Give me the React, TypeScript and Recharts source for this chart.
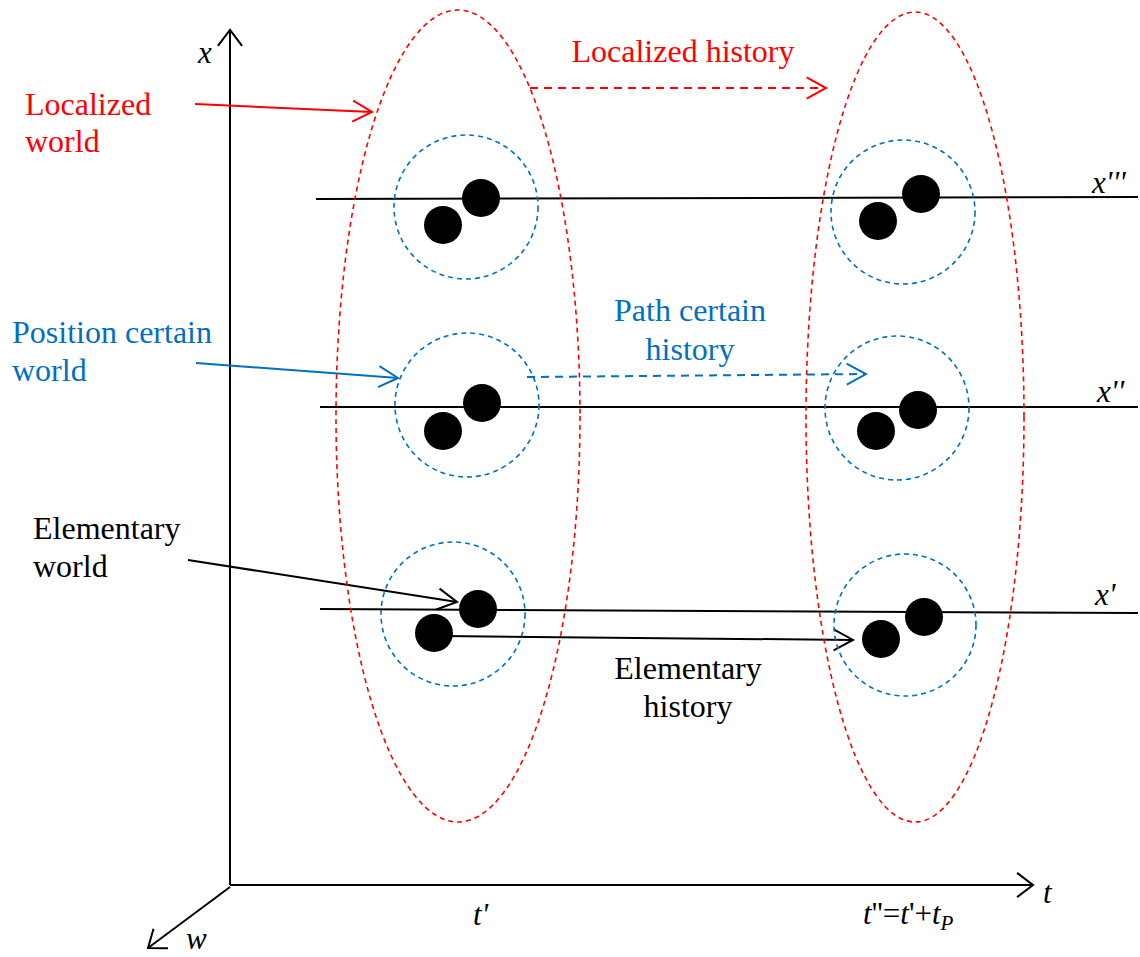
import React from "react";
import { ScatterChart, Scatter, XAxis, YAxis, ReferenceLine } from "recharts";

// canvas units: one unit per pixel, y counted from the top
const W = 1140;
const H = 957;
const FONT = "'Liberation Serif', 'Times New Roman', serif";
const RED = "#FF0000";
const BLUE = "#0070C0";
const BLACK = "#000000";

// two particles in every elementary world
const particles = [
  { x: 481, y: 198 }, { x: 443, y: 225 },
  { x: 482, y: 403 }, { x: 443, y: 431 },
  { x: 478, y: 609 }, { x: 434, y: 633 },
  { x: 921, y: 194 }, { x: 878, y: 221 },
  { x: 918, y: 410 }, { x: 876, y: 431 },
  { x: 924, y: 617 }, { x: 881, y: 639 },
];

// position certain worlds (blue dashed circles)
const positionWorlds = [
  { x: 466, y: 207, r: 72 },
  { x: 467, y: 405, r: 72 },
  { x: 453, y: 614, r: 72 },
  { x: 903, y: 212, r: 72 },
  { x: 897, y: 408, r: 72 },
  { x: 905, y: 625, r: 71 },
];

// localized worlds (red dashed ellipses)
const localizedWorlds = [
  { x: 458, y: 416, rx: 122, ry: 406 },
  { x: 915, y: 417, rx: 109, ry: 405 },
];

// axes x, t, w
const axes = [
  { from: [230, 885], to: [230, 30] },
  { from: [230, 885], to: [1033, 885] },
  { from: [230, 887], to: [148, 948] },
];

// position lines x''', x'', x'
const positionLines = [
  { from: [316, 199], to: [1138, 197] },
  { from: [320, 407], to: [1138, 407] },
  { from: [320, 609], to: [1138, 613] },
];

const arrows = [
  { from: [195, 104], to: [372, 112], color: RED, dashed: false },
  { from: [530, 88], to: [826, 88], color: RED, dashed: true },
  { from: [196, 363], to: [398, 378], color: BLUE, dashed: false },
  { from: [527, 377], to: [866, 374], color: BLUE, dashed: true },
  { from: [188, 560], to: [457, 602], color: BLACK, dashed: false },
  { from: [443, 636], to: [853, 640], color: BLACK, dashed: false },
];

const captions = [
  { x: 25, y: 115, text: "Localized", color: RED, anchor: "start" },
  { x: 25, y: 152, text: "world", color: RED, anchor: "start" },
  { x: 683, y: 62, text: "Localized history", color: RED, anchor: "middle" },
  { x: 12, y: 343, text: "Position certain", color: BLUE, anchor: "start" },
  { x: 12, y: 381, text: "world", color: BLUE, anchor: "start" },
  { x: 690, y: 321, text: "Path certain", color: BLUE, anchor: "middle" },
  { x: 690, y: 360, text: "history", color: BLUE, anchor: "middle" },
  { x: 33, y: 539, text: "Elementary", color: BLACK, anchor: "start" },
  { x: 33, y: 577, text: "world", color: BLACK, anchor: "start" },
  { x: 688, y: 679, text: "Elementary", color: BLACK, anchor: "middle" },
  { x: 688, y: 717, text: "history", color: BLACK, anchor: "middle" },
];

const symbols = [
  { x: 198, y: 63, text: "x" },
  { x: 1043, y: 903, text: "t" },
  { x: 186, y: 949, text: "w" },
  { x: 1092, y: 193, text: "x'''" },
  { x: 1097, y: 402, text: "x''" },
  { x: 1095, y: 605, text: "x'" },
  { x: 473, y: 925, text: "t'" },
];

const openHead = (x1: number, y1: number, x2: number, y2: number, len = 22, spread = 0.5) => {
  const a = Math.atan2(y2 - y1, x2 - x1);
  const l = [x2 - len * Math.cos(a - spread), y2 - len * Math.sin(a - spread)];
  const r = [x2 - len * Math.cos(a + spread), y2 - len * Math.sin(a + spread)];
  return `M${l[0]},${l[1]} L${x2},${y2} L${r[0]},${r[1]}`;
};

const arrowLine = (color: string, dashed: boolean, width: number, len?: number, spread?: number) => (p: any) => (
  <g>
    <line x1={p.x1} y1={p.y1} x2={p.x2} y2={p.y2} stroke={color} strokeWidth={width}
      strokeDasharray={dashed ? "8 6" : undefined} />
    <path d={openHead(p.x1, p.y1, p.x2, p.y2, len, spread)} fill="none" stroke={color} strokeWidth={width} />
  </g>
);

const plainLine = (p: any) => (
  <line x1={p.x1} y1={p.y1} x2={p.x2} y2={p.y2} stroke={BLACK} strokeWidth={2} />
);

// canvas units are pixels here (margin 0, hidden axes)
const PX = 1;

const Particle = (p: any) => <circle cx={p.cx} cy={p.cy} r={19} fill={BLACK} />;

const PositionWorld = (p: any) => (
  <circle cx={p.cx} cy={p.cy} r={p.payload.r * PX} fill="none" stroke={BLUE}
    strokeWidth={1.6} strokeDasharray="5 4" />
);

const LocalizedWorld = (p: any) => (
  <ellipse cx={p.cx} cy={p.cy} rx={p.payload.rx * PX} ry={p.payload.ry * PX} fill="none"
    stroke={RED} strokeWidth={1.6} strokeDasharray="5 4" />
);

const Caption = (p: any) => (
  <text x={p.cx} y={p.cy} fill={p.payload.color} textAnchor={p.payload.anchor}
    style={{ fontFamily: FONT, fontSize: 32 }}>
    {p.payload.text}
  </text>
);

const Symbol = (p: any) => (
  <text x={p.cx} y={p.cy} fill={BLACK} textAnchor="start"
    style={{ fontFamily: FONT, fontSize: 31, fontStyle: "italic" }}>
    {p.payload.text}
  </text>
);

const tSum = [{ x: 863, y: 924 }];
const TSum = (p: any) => (
  <text x={p.cx} y={p.cy} fill={BLACK} textAnchor="start" style={{ fontFamily: FONT, fontSize: 31 }}>
    <tspan fontStyle="italic">t</tspan>
    <tspan>''=</tspan>
    <tspan fontStyle="italic">t</tspan>
    <tspan>'+</tspan>
    <tspan fontStyle="italic">t</tspan>
    <tspan fontStyle="italic" fontSize={21} dy={6}>P</tspan>
  </text>
);

export default function App() {
  return (
    <div style={{ position: "absolute", left: 0, top: 0, background: "#fff" }}>
      <ScatterChart width={W} height={H} margin={{ top: 0, right: 0, bottom: 0, left: 0 }}>
        <XAxis type="number" dataKey="x" domain={[0, W]} hide allowDataOverflow />
        <YAxis type="number" dataKey="y" domain={[0, H]} reversed hide allowDataOverflow />

        {positionLines.map((l, i) => (
          <ReferenceLine key={`pl${i}`} segment={[{ x: l.from[0], y: l.from[1] }, { x: l.to[0], y: l.to[1] }]}
            shape={plainLine} ifOverflow="visible" />
        ))}

        <Scatter data={localizedWorlds} shape={LocalizedWorld} isAnimationActive={false} />
        <Scatter data={positionWorlds} shape={PositionWorld} isAnimationActive={false} />

        {axes.map((a, i) => (
          <ReferenceLine key={`ax${i}`} segment={[{ x: a.from[0], y: a.from[1] }, { x: a.to[0], y: a.to[1] }]}
            shape={arrowLine(BLACK, false, 2, 20, 0.65)} ifOverflow="visible" />
        ))}

        {arrows.map((a, i) => (
          <ReferenceLine key={`ar${i}`} segment={[{ x: a.from[0], y: a.from[1] }, { x: a.to[0], y: a.to[1] }]}
            shape={arrowLine(a.color, a.dashed, 2, 22, 0.5)} ifOverflow="visible" />
        ))}

        <Scatter data={particles} shape={Particle} isAnimationActive={false} />
        <Scatter data={captions} shape={Caption} isAnimationActive={false} />
        <Scatter data={symbols} shape={Symbol} isAnimationActive={false} />
        <Scatter data={tSum} shape={TSum} isAnimationActive={false} />
      </ScatterChart>
    </div>
  );
}
